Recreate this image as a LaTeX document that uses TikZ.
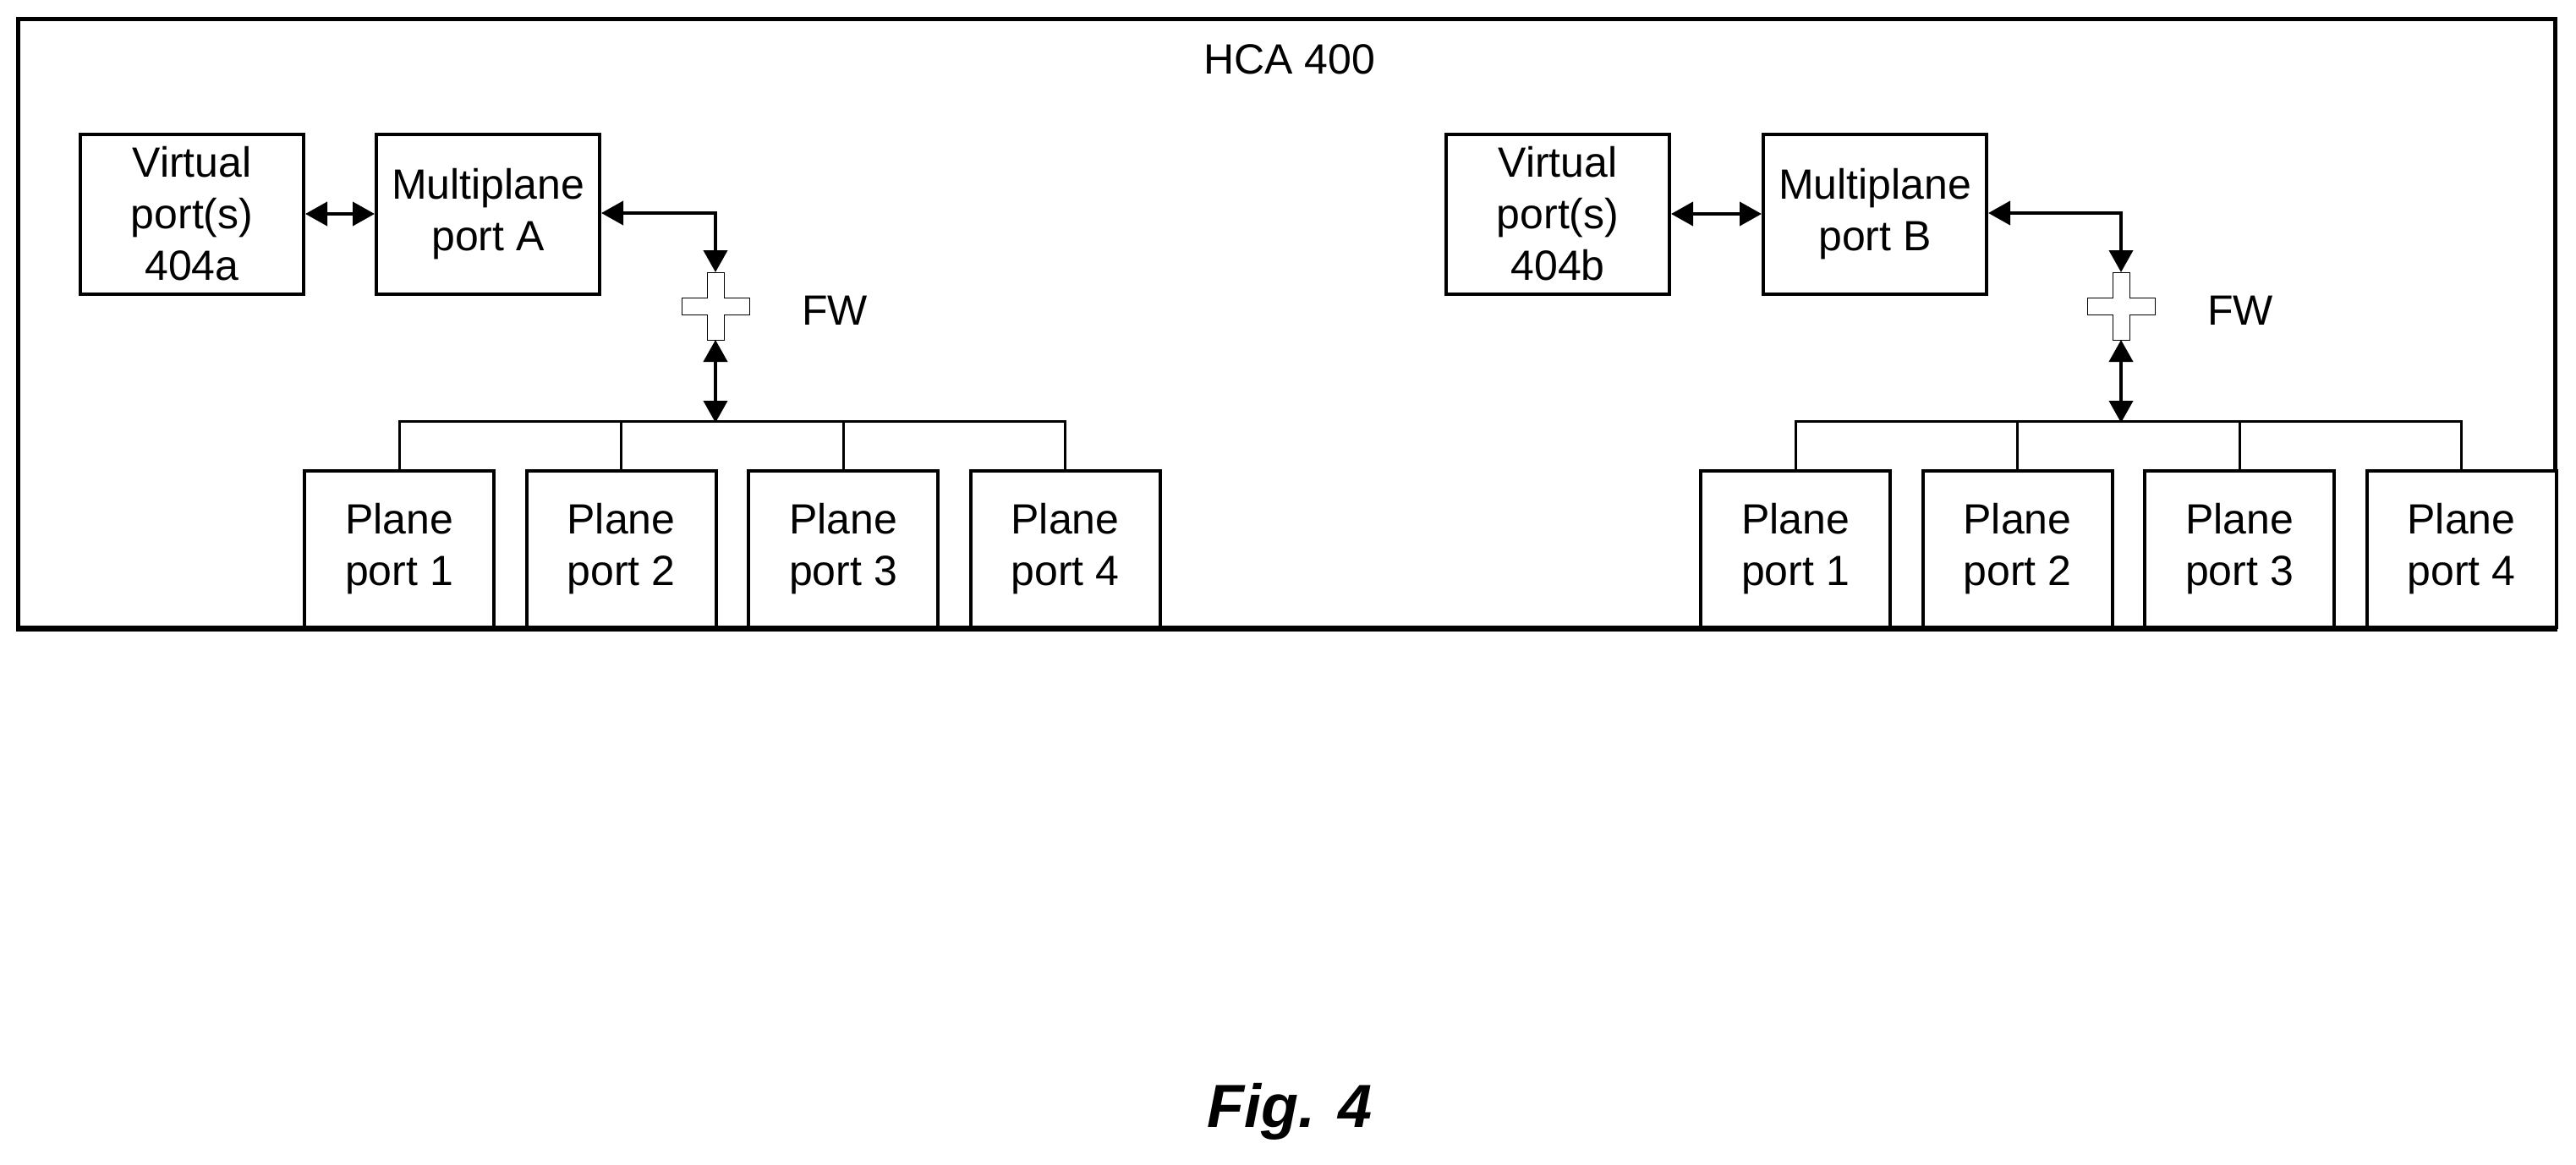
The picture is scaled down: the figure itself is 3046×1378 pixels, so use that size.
\documentclass[tikz,border=0pt]{standalone}
\usepackage{fontspec}
\setmainfont{Liberation Sans}
\usetikzlibrary{arrows.meta,calc}
\begin{document}
\begin{tikzpicture}[x=1pt,y=-1pt,
  box/.style={draw,line width=4pt,fill=white,inner sep=0pt,align=center,font=\fontsize{50}{61}\selectfont},
  arr/.style={line width=4pt,{Triangle[length=26pt,width=28pt]}-{Triangle[length=26pt,width=28pt]}},
  ln/.style={line width=3pt},
  txt/.style={font=\fontsize{50}{61}\selectfont,inner sep=0pt}]
\useasboundingbox (0,0) rectangle (3046,1378);
\fill[white] (0,0) rectangle (3046,1378);
\node[draw,line width=5pt,minimum width=3000pt,minimum height=719pt,inner sep=0pt] (hca) at (1521,382.5) {};
\node[txt] (hcal) at (1525,70) {HCA 400};
\foreach \s/\vx/\mx/\fx/\lab/\vl/\px in {a/227/577/846/A/404a/472, b/1842/2217/2508/B/404b/2123}{
  \node[box,minimum width=264pt,minimum height=189pt] (v\s) at (\vx,253) {Virtual\\port(s)\\\vl};
  \node[box,minimum width=264pt,minimum height=189pt] (m\s) at (\mx,253) {Multiplane\\port \lab};
  \draw[arr] (v\s.east) -- (m\s.west);
  \coordinate (c\s) at (\fx,362);
  \draw[fill=white,line width=1pt] ($(c\s)+(-10,-40)$) -- ($(c\s)+(10,-40)$) -- ($(c\s)+(10,-10)$) -- ($(c\s)+(40,-10)$) -- ($(c\s)+(40,10)$) -- ($(c\s)+(10,10)$) -- ($(c\s)+(10,40)$) -- ($(c\s)+(-10,40)$) -- ($(c\s)+(-10,10)$) -- ($(c\s)+(-40,10)$) -- ($(c\s)+(-40,-10)$) -- ($(c\s)+(-10,-10)$) -- cycle;
  \node[txt] (fw\s) at ($(c\s)+(141,5)$) {FW};
  \coordinate (top\s) at ($(c\s)+(0,-40)$);
  \coordinate (bot\s) at ($(c\s)+(0,40)$);
  \coordinate (bus\s) at (\fx,500);
  \draw[arr] (m\s.east |- 0,252) -| (top\s);
  \draw[arr] (bot\s) -- (bus\s);
  \foreach \i in {1,2,3,4}{
    \node[box,minimum width=224pt,minimum height=185pt] (p\s\i) at ({\px+(\i-1)*262.5},649.5) {Plane\\port \i};
  }
  \draw[ln] (p\s1.north) -- ++(0,-57) -| (p\s4.north);
  \draw[ln] (p\s2.north) -- ++(0,-57);
  \draw[ln] (p\s3.north) -- ++(0,-57);
}
\draw[line width=5pt] (hca.south west) -- (hca.south east);
\node[txt,font=\fontsize{72}{80}\selectfont\bfseries\itshape] (fig) at (1525,1315) {Fig. 4};
\end{tikzpicture}
\end{document}
